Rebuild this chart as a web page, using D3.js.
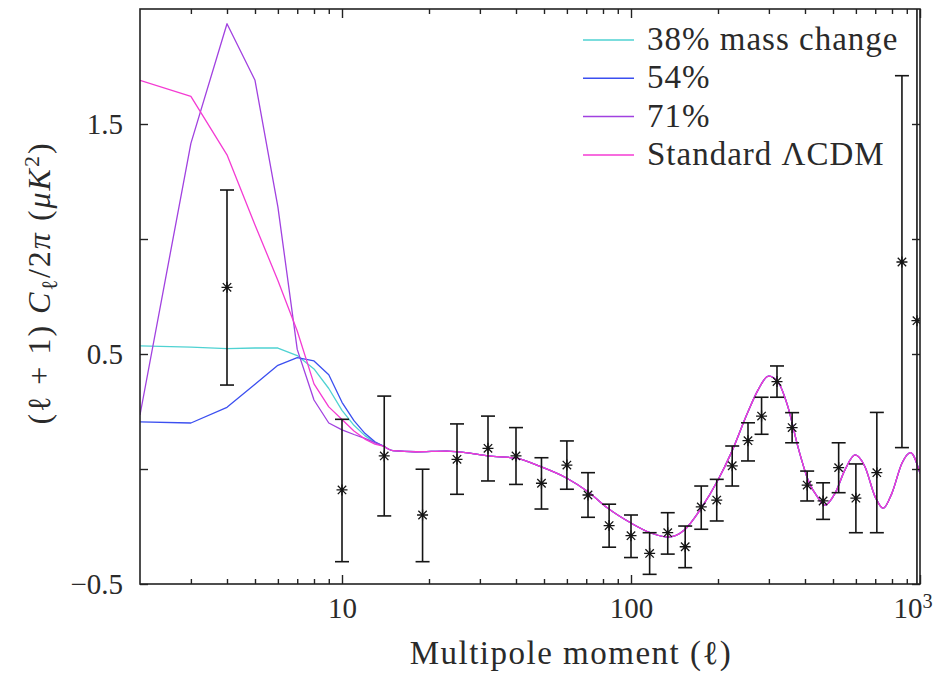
<!DOCTYPE html>
<html>
<head>
<meta charset="utf-8">
<script src="https://cdn.jsdelivr.net/npm/d3@7/dist/d3.min.js"></script>
<style>
  html, body { margin: 0; padding: 0; background: #fff; }
  svg { display: block; }
  text { font-family: "Liberation Serif", "DejaVu Serif", serif; fill: #2a2a2a; }
</style>
</head>
<body>
<svg id="chart" width="945" height="677"></svg>
<script>
// Low multipoles: each model is drawn point to point at integer l
const ellLow   = [2, 3, 4, 5, 6, 7, 8, 9, 10, 11, 12, 13, 14];
const mass38   = [0.535, 0.530, 0.523, 0.526, 0.526, 0.493, 0.435, 0.350, 0.255, 0.190, 0.145, 0.115, 0.098];
const mass54   = [0.205, 0.200, 0.268, 0.368, 0.451, 0.484, 0.470, 0.410, 0.290, 0.210, 0.155, 0.118, 0.098];
const mass71   = [0.235, 1.416, 1.936, 1.690, 1.140, 0.520, 0.300, 0.200, 0.170, 0.150, 0.133, 0.115, 0.098];
const lcdmLow  = [1.690, 1.620, 1.366, 1.061, 0.820, 0.600, 0.370, 0.270, 0.215, 0.165, 0.130, 0.108, 0.098];

// Higher multipoles, where all four models coincide
const ellTail  = [14, 15, 18, 23, 28, 32, 40, 49, 60, 71, 83, 100, 117, 134, 153, 175, 200, 222, 254, 275,
                  299, 322, 349, 378, 410, 444, 469, 508, 550, 596, 645, 699, 746, 799, 866, 927, 1000];
const specTail = [0.098, 0.080, 0.075, 0.078, 0.068, 0.057, 0.047, 0.009, -0.040, -0.099, -0.170, -0.235,
                  -0.278, -0.296, -0.265, -0.170, -0.048, 0.069, 0.249, 0.343, 0.404, 0.380, 0.271, 0.097,
                  -0.048, -0.126, -0.157, -0.106, -0.004, 0.061, 0.010, -0.120, -0.171, -0.106, 0.025, 0.071, -0.019];

// Binned measurements with 1-sigma bounds
const obsEll   = [4, 10, 14, 19, 25, 32, 40, 49, 60, 71, 84, 100, 116, 134, 154, 175, 198, 224, 254, 283,
                  320, 361, 407, 462, 523, 600, 709, 866, 976];
const obsVal   = [0.790, -0.091, 0.057, -0.200, 0.042, 0.090, 0.057, -0.062, 0.017, -0.113, -0.246, -0.290,
                  -0.367, -0.277, -0.338, -0.165, -0.135, 0.014, 0.123, 0.230, 0.380, 0.180, -0.070, -0.139,
                  0.006, -0.127, -0.016, 0.900, 0.645];
const obsLo    = [0.365, -0.403, -0.204, -0.403, -0.110, -0.052, -0.067, -0.174, -0.088, -0.210, -0.340, -0.385,
                  -0.458, -0.370, -0.429, -0.262, -0.226, -0.074, 0.035, 0.151, 0.312, 0.114, -0.139, -0.219,
                  -0.103, -0.277, -0.277, 0.093, -0.900];
const obsHi    = [1.213, 0.216, 0.317, -0.001, 0.196, 0.230, 0.180, 0.049, 0.122, -0.016, -0.153, -0.200,
                  -0.277, -0.190, -0.248, -0.074, -0.045, 0.100, 0.201, 0.312, 0.448, 0.245, -0.009, -0.060,
                  0.114, 0.022, 0.246, 1.710, 2.300];

const seriesNames  = ["38% mass change", "54%", "71%", "Standard \u039BCDM"];
const seriesLow    = [mass38, mass54, mass71, lcdmLow];
const seriesColors = ["#4fd2d2", "#3b4ff0", "#a141e0", "#f43bd3"];

const xMajor = [10, 100, 1000];
const xMinor = [3, 4, 5, 6, 7, 8, 9, 20, 30, 40, 50, 60, 70, 80, 90, 200, 300, 400, 500, 600, 700, 800, 900];
const yTicks = [-0.5, 0, 0.5, 1, 1.5];
const yLabeled = [-0.5, 0.5, 1.5];

const svg = d3.select("#chart");
const W = 945, H = 677;
const plot = { left: 140, right: 920, top: 9, bottom: 584 };

const x = d3.scaleLog().domain([2, 1000]).range([plot.left, plot.right]);
const y = d3.scaleLinear().domain([-0.5, 2]).range([plot.bottom, plot.top]);

svg.append("rect").attr("width", W).attr("height", H).attr("fill", "#fff");

svg.append("defs").append("clipPath").attr("id", "plotClip")
  .append("rect")
  .attr("x", plot.left).attr("y", plot.top)
  .attr("width", plot.right - plot.left).attr("height", plot.bottom - plot.top);

const inner = svg.append("g").attr("clip-path", "url(#plotClip)");

// Model spectra
const lineLin = d3.line().x(d => x(d[0])).y(d => y(d[1])).curve(d3.curveLinear);
const lineSmooth = d3.line().x(d => x(d[0])).y(d => y(d[1])).curve(d3.curveMonotoneX);
const tailPts = ellTail.map((l, i) => [l, specTail[i]]);

seriesLow.forEach((vals, s) => {
  const lowPts = ellLow.map((l, i) => [l, vals[i]]);
  inner.append("path")
    .attr("d", lineLin(lowPts) + lineSmooth(tailPts))
    .attr("fill", "none")
    .attr("stroke", seriesColors[s])
    .attr("stroke-width", 1.3)
    .attr("stroke-linejoin", "round");
});

// Measurements: error bars and asterisk markers
const obs = obsEll.map((l, i) => ({ l, v: obsVal[i], lo: obsLo[i], hi: obsHi[i] }));
const cap = 7;
const bars = inner.append("g").attr("stroke", "#151515").attr("stroke-width", 1.6).attr("fill", "none");
obs.forEach(d => {
  const px = x(d.l);
  bars.append("line").attr("x1", px).attr("x2", px).attr("y1", y(d.lo)).attr("y2", y(d.hi));
  bars.append("line").attr("x1", px - cap).attr("x2", px + cap).attr("y1", y(d.lo)).attr("y2", y(d.lo));
  bars.append("line").attr("x1", px - cap).attr("x2", px + cap).attr("y1", y(d.hi)).attr("y2", y(d.hi));
});
const sPlus = 5.5, sCross = 4.2;
inner.append("g").selectAll("path.star").data(obs).join("path")
  .attr("class", "star")
  .attr("transform", d => `translate(${x(d.l)},${y(d.v)})`)
  .attr("d", `M${-sPlus},0H${sPlus}M0,${-sPlus}V${sPlus}M${-sCross},${-sCross}L${sCross},${sCross}M${-sCross},${sCross}L${sCross},${-sCross}`)
  .attr("stroke", "#151515").attr("stroke-width", 1.3).attr("fill", "none");

// Axes (ticks point inward and are mirrored on the top and right edges)
const fontSize = 29;
const styleAxis = g => {
  g.select(".domain").remove();
  g.selectAll(".tick line").attr("stroke", "#222").attr("stroke-width", 1.4);
  g.selectAll(".tick text").attr("fill", "#2a2a2a").attr("font-size", fontSize)
    .attr("font-family", '"Liberation Serif", "DejaVu Serif", serif');
};

const xLabelFmt = v => (v === 1000 ? "" : String(v));
svg.append("g").attr("transform", `translate(0,${plot.bottom})`)
  .call(d3.axisBottom(x).tickValues(xMajor).tickFormat(xLabelFmt).tickSizeInner(-9).tickSizeOuter(0).tickPadding(13))
  .call(styleAxis)
  .call(g => g.selectAll(".tick").filter(d => d === 1000).select("text")
    .call(t => { t.text("10"); t.append("tspan").attr("dy", "-0.45em").attr("font-size", fontSize * 0.7).text("3"); })
    .attr("text-anchor", "start").attr("x", -27));
svg.append("g").attr("transform", `translate(0,${plot.bottom})`)
  .call(d3.axisBottom(x).tickValues(xMinor).tickFormat("").tickSizeInner(-5).tickSizeOuter(0))
  .call(styleAxis);
svg.append("g").attr("transform", `translate(0,${plot.top})`)
  .call(d3.axisTop(x).tickValues(xMajor).tickFormat("").tickSizeInner(-9).tickSizeOuter(0))
  .call(styleAxis);
svg.append("g").attr("transform", `translate(0,${plot.top})`)
  .call(d3.axisTop(x).tickValues(xMinor).tickFormat("").tickSizeInner(-5).tickSizeOuter(0))
  .call(styleAxis);

svg.append("g").attr("transform", `translate(${plot.left},0)`)
  .call(d3.axisLeft(y).tickValues(yTicks)
    .tickFormat(v => yLabeled.includes(v) ? (v < 0 ? "\u2212" + Math.abs(v) : String(v)) : "")
    .tickSizeInner(-8).tickSizeOuter(0).tickPadding(17))
  .call(styleAxis);
svg.append("g").attr("transform", `translate(${plot.right},0)`)
  .call(d3.axisRight(y).tickValues(yTicks).tickFormat("").tickSizeInner(-8).tickSizeOuter(0))
  .call(styleAxis);

// Frame
svg.append("rect")
  .attr("x", plot.left).attr("y", plot.top)
  .attr("width", plot.right - plot.left).attr("height", plot.bottom - plot.top)
  .attr("fill", "none").attr("stroke", "#222").attr("stroke-width", 1.6);

// Axis titles
svg.append("text")
  .attr("x", 571).attr("y", 664)
  .attr("text-anchor", "middle").attr("font-size", 33).attr("letter-spacing", 1.5)
  .text("Multipole moment (\u2113)");

const yTitle = svg.append("text")
  .attr("transform", "translate(50,283) rotate(-90)")
  .attr("text-anchor", "middle").attr("font-size", 32).attr("letter-spacing", 2);
yTitle.append("tspan").text("(\u2113 + 1) ");
yTitle.append("tspan").attr("font-style", "italic").text("C");
yTitle.append("tspan").attr("font-size", 22).attr("dy", "0.3em").text("\u2113");
yTitle.append("tspan").attr("dy", "-0.2em").text("/2");
yTitle.append("tspan").attr("font-style", "italic").text("\u03C0 ");
yTitle.append("tspan").text("(");
yTitle.append("tspan").attr("font-style", "italic").text("\u03BCK");
yTitle.append("tspan").attr("font-size", 22).attr("dy", "-0.5em").text("2");
yTitle.append("tspan").attr("dy", "0.35em").text(")");

// Legend
const legend = svg.append("g");
seriesNames.forEach((name, i) => {
  const cy = 40 + i * 38.3;
  legend.append("line")
    .attr("x1", 583).attr("x2", 634).attr("y1", cy).attr("y2", cy)
    .attr("stroke", seriesColors[i]).attr("stroke-width", 1.5);
  legend.append("text")
    .attr("x", 647).attr("y", cy).attr("dy", "0.3em")
    .attr("font-size", 33).attr("letter-spacing", 1)
    .text(name);
});
</script>
</body>
</html>
